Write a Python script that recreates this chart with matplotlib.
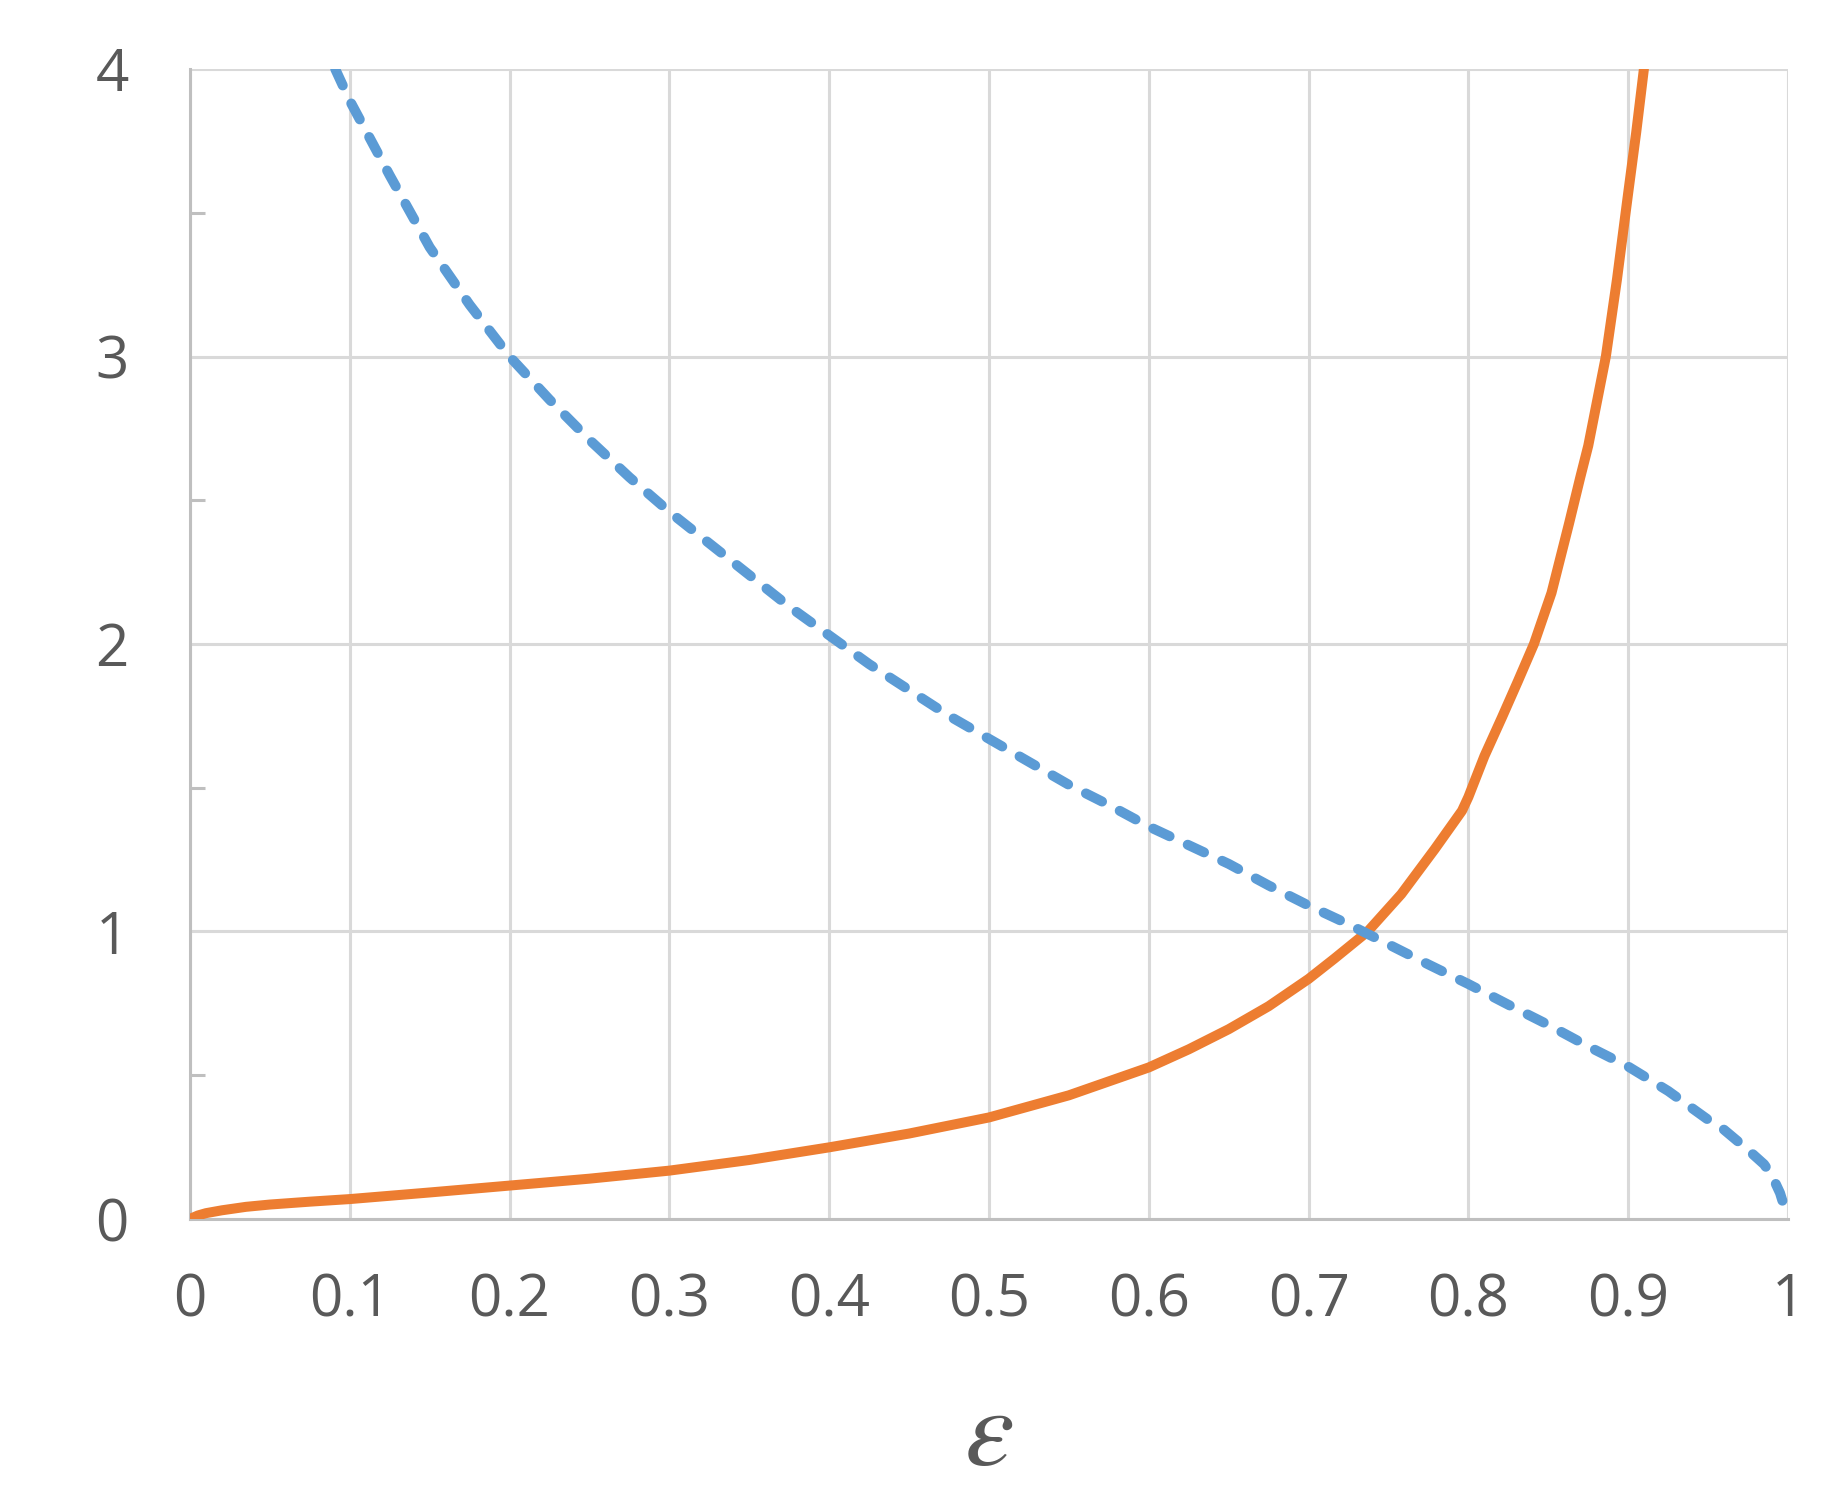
import matplotlib
matplotlib.use('Agg')
import matplotlib.pyplot as plt
from matplotlib.ticker import MultipleLocator

plt.rcParams['font.family'] = ['Open Sans', 'DejaVu Sans']
plt.rcParams['mathtext.fontset'] = 'stix'

# dashed blue curve
blue_x = [0.0909, 0.1, 0.125, 0.15, 0.175, 0.2, 0.225, 0.25, 0.275, 0.3, 0.325,
          0.35, 0.375, 0.4, 0.425, 0.45, 0.475, 0.5, 0.525, 0.55, 0.575, 0.6,
          0.625, 0.65, 0.675, 0.7, 0.725, 0.75, 0.775, 0.8, 0.825, 0.85, 0.875,
          0.9, 0.925, 0.95, 0.96, 0.975, 0.985, 0.99, 0.995, 1.0]
blue_y = [4.0, 3.89, 3.63, 3.38, 3.18, 3.0, 2.85, 2.71, 2.58, 2.46, 2.35,
          2.24, 2.13, 2.03, 1.93, 1.84, 1.75, 1.67, 1.59, 1.51, 1.44, 1.365,
          1.30, 1.235, 1.16, 1.09, 1.025, 0.955, 0.885, 0.817, 0.745, 0.675, 0.60,
          0.53, 0.445, 0.345, 0.31, 0.24, 0.19, 0.15, 0.09, 0.0]

# solid orange curve
orange_x = [0.0, 0.005, 0.01, 0.02, 0.035, 0.05, 0.075, 0.1, 0.15, 0.2, 0.25, 0.3,
            0.35, 0.4, 0.45, 0.5, 0.55, 0.6, 0.625, 0.65, 0.675, 0.7, 0.716, 0.737,
            0.758, 0.779, 0.796, 0.8, 0.81, 0.821, 0.831, 0.841, 0.852, 0.863,
            0.87, 0.875, 0.886, 0.893, 0.9, 0.905, 0.9098]
orange_y = [0.0, 0.012, 0.02, 0.03, 0.042, 0.05, 0.06, 0.069, 0.092, 0.116, 0.14, 0.168,
            0.205, 0.249, 0.297, 0.353, 0.43, 0.527, 0.59, 0.66, 0.74, 0.835, 0.905, 1.0,
            1.13, 1.287, 1.42, 1.468, 1.61, 1.745, 1.871, 2.0, 2.178, 2.42,
            2.58, 2.69, 3.0, 3.27, 3.57, 3.78, 4.0]

x_ticks = [0, 0.1, 0.2, 0.3, 0.4, 0.5, 0.6, 0.7, 0.8, 0.9, 1]
x_labels = ['0', '0.1', '0.2', '0.3', '0.4', '0.5', '0.6', '0.7', '0.8', '0.9', '1']
y_ticks = [0, 1, 2, 3, 4]

BLUE = '#5B9BD5'
ORANGE = '#ED7D31'
GRID = '#D9D9D9'
AXIS = '#BFBFBF'
TEXT = '#595959'

fig = plt.figure(figsize=(18.32, 15.08), dpi=100)
ax = fig.add_axes([0.1037, 0.1917, 0.8723, 0.7625])

ax.plot(orange_x, orange_y, color=ORANGE, lw=7.2, solid_capstyle='round',
        solid_joinstyle='round', zorder=3)
ax.plot(blue_x, blue_y, color=BLUE, lw=7.2, linestyle=(0, (1.8, 2.0)),
        dash_capstyle='round', dash_joinstyle='round', zorder=3)

ax.set_xlim(0, 1)
ax.set_ylim(0, 4)
ax.set_xticks(x_ticks)
ax.set_xticklabels(x_labels)
ax.set_yticks(y_ticks)
ax.yaxis.set_minor_locator(MultipleLocator(0.5))
ax.grid(True, color=GRID, lw=2.2, zorder=0)
ax.set_axisbelow(True)

for side in ('top', 'right'):
    ax.spines[side].set_visible(False)
for side in ('left', 'bottom'):
    ax.spines[side].set_color(AXIS)
    ax.spines[side].set_linewidth(2.2)

ax.tick_params(axis='both', which='major', length=0, labelsize=42, labelcolor=TEXT)
ax.tick_params(axis='x', which='major', pad=38)
ax.tick_params(axis='y', which='major', pad=44)
ax.tick_params(axis='y', which='minor', direction='in', length=11, width=2.2, color=AXIS)

ax.set_xlabel(r'$\varepsilon$', fontsize=80, color=TEXT, labelpad=36)

fig.savefig('out.png', dpi=100)
